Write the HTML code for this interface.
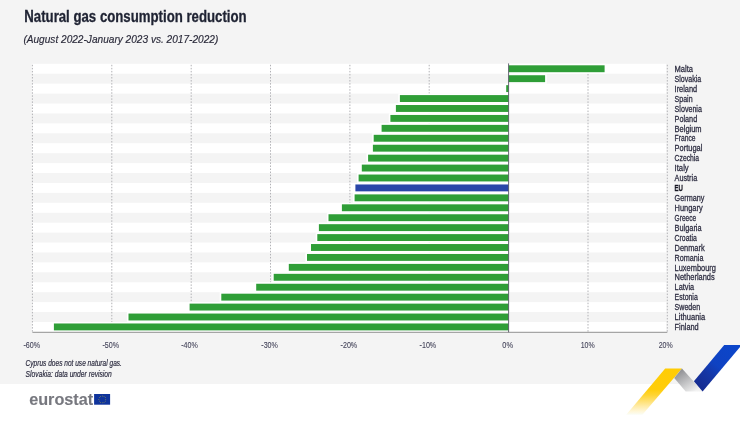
<!DOCTYPE html>
<html lang="en"><head><meta charset="utf-8"><title>Natural gas consumption reduction</title>
<style>
html,body{margin:0;padding:0;background:#fff;}
body{width:740px;height:421px;overflow:hidden;font-family:"Liberation Sans",sans-serif;}
svg{display:block}
text{font-family:"Liberation Sans",sans-serif;}
.lab{font-size:9px;fill:#2c2c40;stroke:#2c2c40;stroke-width:0.28px;}
.ax{font-size:8.5px;fill:#44445a;stroke:#44445a;stroke-width:0.1px;}
.fn{font-size:8.8px;font-style:italic;fill:#2e2e42;stroke:#2e2e42;stroke-width:0.2px;}
</style></head><body>
<svg width="740" height="421" viewBox="0 0 740 421">
<defs>
<linearGradient id="gy" gradientUnits="userSpaceOnUse" x1="0" y1="368.5" x2="0" y2="414.8"><stop offset="0" stop-color="#ffcc05"/><stop offset="0.45" stop-color="#ffcd0a"/><stop offset="0.58" stop-color="#ffd535"/><stop offset="0.70" stop-color="#ffe070"/><stop offset="0.82" stop-color="#ffecaa"/><stop offset="0.92" stop-color="#fff6d6"/><stop offset="1" stop-color="#fafdf6"/></linearGradient>
<linearGradient id="gg" gradientUnits="userSpaceOnUse" x1="680" y1="370" x2="694" y2="392"><stop offset="0" stop-color="#8e8f93"/><stop offset="1" stop-color="#f2f2f2"/></linearGradient>
<linearGradient id="gb" gradientUnits="userSpaceOnUse" x1="698" y1="387" x2="735" y2="343"><stop offset="0" stop-color="#152b90"/><stop offset="0.28" stop-color="#1636a4"/><stop offset="0.5" stop-color="#0f42c2"/><stop offset="1" stop-color="#0b46cb"/></linearGradient>
</defs>
<rect x="0" y="0" width="740" height="384" fill="#f4f4f4"/>
<rect x="0" y="384" width="740" height="37" fill="#ffffff"/>

<rect x="31.7" y="63.80" width="634.6" height="9.93" fill="#ffffff"/>
<rect x="31.7" y="83.66" width="634.6" height="9.93" fill="#ffffff"/>
<rect x="31.7" y="103.52" width="634.6" height="9.93" fill="#ffffff"/>
<rect x="31.7" y="123.38" width="634.6" height="9.93" fill="#ffffff"/>
<rect x="31.7" y="143.24" width="634.6" height="9.93" fill="#ffffff"/>
<rect x="31.7" y="163.10" width="634.6" height="9.93" fill="#ffffff"/>
<rect x="31.7" y="182.96" width="634.6" height="9.93" fill="#ffffff"/>
<rect x="31.7" y="202.82" width="634.6" height="9.93" fill="#ffffff"/>
<rect x="31.7" y="222.68" width="634.6" height="9.93" fill="#ffffff"/>
<rect x="31.7" y="242.54" width="634.6" height="9.93" fill="#ffffff"/>
<rect x="31.7" y="262.40" width="634.6" height="9.93" fill="#ffffff"/>
<rect x="31.7" y="282.26" width="634.6" height="9.93" fill="#ffffff"/>
<rect x="31.7" y="302.12" width="634.6" height="9.93" fill="#ffffff"/>
<rect x="31.7" y="321.98" width="634.6" height="9.93" fill="#ffffff"/>
<line x1="32.4" y1="64.8" x2="32.4" y2="331.9" stroke="#b2b2b6" stroke-width="1" stroke-dasharray="1.5 1.55"/>
<line x1="111.8" y1="64.8" x2="111.8" y2="331.9" stroke="#b2b2b6" stroke-width="1" stroke-dasharray="1.5 1.55"/>
<line x1="191.2" y1="64.8" x2="191.2" y2="331.9" stroke="#b2b2b6" stroke-width="1" stroke-dasharray="1.5 1.55"/>
<line x1="270.5" y1="64.8" x2="270.5" y2="331.9" stroke="#b2b2b6" stroke-width="1" stroke-dasharray="1.5 1.55"/>
<line x1="349.9" y1="64.8" x2="349.9" y2="331.9" stroke="#b2b2b6" stroke-width="1" stroke-dasharray="1.5 1.55"/>
<line x1="429.2" y1="64.8" x2="429.2" y2="331.9" stroke="#b2b2b6" stroke-width="1" stroke-dasharray="1.5 1.55"/>
<line x1="588.0" y1="64.8" x2="588.0" y2="331.9" stroke="#b2b2b6" stroke-width="1" stroke-dasharray="1.5 1.55"/>
<line x1="667.3" y1="64.8" x2="667.3" y2="331.9" stroke="#b2b2b6" stroke-width="1" stroke-dasharray="1.5 1.55"/>
<rect x="508.6" y="63.70" width="97.6" height="10.10" fill="#ffffff"/>
<rect x="508.6" y="73.63" width="38.1" height="10.10" fill="#ffffff"/>
<rect x="504.6" y="83.56" width="4.0" height="10.10" fill="#ffffff"/>
<rect x="398.3" y="93.49" width="110.3" height="10.10" fill="#ffffff"/>
<rect x="394.3" y="103.42" width="114.3" height="10.10" fill="#ffffff"/>
<rect x="388.8" y="113.35" width="119.8" height="10.10" fill="#ffffff"/>
<rect x="380.0" y="123.28" width="128.6" height="10.10" fill="#ffffff"/>
<rect x="372.1" y="133.21" width="136.5" height="10.10" fill="#ffffff"/>
<rect x="371.3" y="143.14" width="137.3" height="10.10" fill="#ffffff"/>
<rect x="366.5" y="153.07" width="142.1" height="10.10" fill="#ffffff"/>
<rect x="360.2" y="163.00" width="148.4" height="10.10" fill="#ffffff"/>
<rect x="357.0" y="172.93" width="151.6" height="10.10" fill="#ffffff"/>
<rect x="353.8" y="182.86" width="154.8" height="10.10" fill="#ffffff"/>
<rect x="353.0" y="192.79" width="155.6" height="10.10" fill="#ffffff"/>
<rect x="340.3" y="202.72" width="168.3" height="10.10" fill="#ffffff"/>
<rect x="326.9" y="212.65" width="181.7" height="10.10" fill="#ffffff"/>
<rect x="317.3" y="222.58" width="191.3" height="10.10" fill="#ffffff"/>
<rect x="315.7" y="232.51" width="192.9" height="10.10" fill="#ffffff"/>
<rect x="309.4" y="242.44" width="199.2" height="10.10" fill="#ffffff"/>
<rect x="305.4" y="252.37" width="203.2" height="10.10" fill="#ffffff"/>
<rect x="287.2" y="262.30" width="221.4" height="10.10" fill="#ffffff"/>
<rect x="272.1" y="272.23" width="236.5" height="10.10" fill="#ffffff"/>
<rect x="254.6" y="282.16" width="254.0" height="10.10" fill="#ffffff"/>
<rect x="219.7" y="292.09" width="288.9" height="10.10" fill="#ffffff"/>
<rect x="188.0" y="302.02" width="320.6" height="10.10" fill="#ffffff"/>
<rect x="126.9" y="311.95" width="381.7" height="10.10" fill="#ffffff"/>
<rect x="52.3" y="321.88" width="456.3" height="10.10" fill="#ffffff"/>
<rect x="508.6" y="65.30" width="96.0" height="6.9" fill="#2f9e37"/>
<rect x="508.6" y="75.23" width="36.5" height="6.9" fill="#2f9e37"/>
<rect x="506.2" y="85.16" width="2.4" height="6.9" fill="#2f9e37"/>
<rect x="399.9" y="95.09" width="108.7" height="6.9" fill="#2f9e37"/>
<rect x="395.9" y="105.02" width="112.7" height="6.9" fill="#2f9e37"/>
<rect x="390.4" y="114.95" width="118.2" height="6.9" fill="#2f9e37"/>
<rect x="381.6" y="124.88" width="127.0" height="6.9" fill="#2f9e37"/>
<rect x="373.7" y="134.81" width="134.9" height="6.9" fill="#2f9e37"/>
<rect x="372.9" y="144.74" width="135.7" height="6.9" fill="#2f9e37"/>
<rect x="368.1" y="154.67" width="140.5" height="6.9" fill="#2f9e37"/>
<rect x="361.8" y="164.60" width="146.8" height="6.9" fill="#2f9e37"/>
<rect x="358.6" y="174.53" width="150.0" height="6.9" fill="#2f9e37"/>
<rect x="355.4" y="184.46" width="153.2" height="6.9" fill="#2a46a8"/>
<rect x="354.6" y="194.39" width="154.0" height="6.9" fill="#2f9e37"/>
<rect x="341.9" y="204.32" width="166.7" height="6.9" fill="#2f9e37"/>
<rect x="328.5" y="214.25" width="180.1" height="6.9" fill="#2f9e37"/>
<rect x="318.9" y="224.18" width="189.7" height="6.9" fill="#2f9e37"/>
<rect x="317.3" y="234.11" width="191.3" height="6.9" fill="#2f9e37"/>
<rect x="311.0" y="244.04" width="197.6" height="6.9" fill="#2f9e37"/>
<rect x="307.0" y="253.97" width="201.6" height="6.9" fill="#2f9e37"/>
<rect x="288.8" y="263.90" width="219.8" height="6.9" fill="#2f9e37"/>
<rect x="273.7" y="273.83" width="234.9" height="6.9" fill="#2f9e37"/>
<rect x="256.2" y="283.76" width="252.4" height="6.9" fill="#2f9e37"/>
<rect x="221.3" y="293.69" width="287.3" height="6.9" fill="#2f9e37"/>
<rect x="189.6" y="303.62" width="319.0" height="6.9" fill="#2f9e37"/>
<rect x="128.5" y="313.55" width="380.1" height="6.9" fill="#2f9e37"/>
<rect x="53.9" y="323.48" width="454.7" height="6.9" fill="#2f9e37"/>
<line x1="32.4" y1="332.3" x2="667.3" y2="332.3" stroke="#929292" stroke-width="1"/>
<line x1="508.6" y1="63.4" x2="508.6" y2="332.3" stroke="#585866" stroke-width="0.9"/>
<text class="lab" x="674.6" y="71.9" textLength="18.4" lengthAdjust="spacingAndGlyphs">Malta</text>
<text class="lab" x="674.6" y="81.8" textLength="26.7" lengthAdjust="spacingAndGlyphs">Slovakia</text>
<text class="lab" x="674.6" y="91.8" textLength="22.6" lengthAdjust="spacingAndGlyphs">Ireland</text>
<text class="lab" x="674.6" y="101.7" textLength="18.0" lengthAdjust="spacingAndGlyphs">Spain</text>
<text class="lab" x="674.6" y="111.6" textLength="27.3" lengthAdjust="spacingAndGlyphs">Slovenia</text>
<text class="lab" x="674.6" y="121.5" textLength="22.6" lengthAdjust="spacingAndGlyphs">Poland</text>
<text class="lab" x="674.6" y="131.5" textLength="27.0" lengthAdjust="spacingAndGlyphs">Belgium</text>
<text class="lab" x="674.6" y="141.4" textLength="20.9" lengthAdjust="spacingAndGlyphs">France</text>
<text class="lab" x="674.6" y="151.3" textLength="27.8" lengthAdjust="spacingAndGlyphs">Portugal</text>
<text class="lab" x="674.6" y="161.3" textLength="24.5" lengthAdjust="spacingAndGlyphs">Czechia</text>
<text class="lab" x="674.6" y="171.2" textLength="14.1" lengthAdjust="spacingAndGlyphs">Italy</text>
<text class="lab" x="674.6" y="181.1" textLength="22.6" lengthAdjust="spacingAndGlyphs">Austria</text>
<text class="lab" x="674.6" y="191.1" textLength="8.4" lengthAdjust="spacingAndGlyphs" font-weight="bold" style="fill:#111118">EU</text>
<text class="lab" x="674.6" y="201.0" textLength="29.7" lengthAdjust="spacingAndGlyphs">Germany</text>
<text class="lab" x="674.6" y="210.9" textLength="28.1" lengthAdjust="spacingAndGlyphs">Hungary</text>
<text class="lab" x="674.6" y="220.8" textLength="21.5" lengthAdjust="spacingAndGlyphs">Greece</text>
<text class="lab" x="674.6" y="230.8" textLength="27.0" lengthAdjust="spacingAndGlyphs">Bulgaria</text>
<text class="lab" x="674.6" y="240.7" textLength="22.2" lengthAdjust="spacingAndGlyphs">Croatia</text>
<text class="lab" x="674.6" y="250.6" textLength="30.0" lengthAdjust="spacingAndGlyphs">Denmark</text>
<text class="lab" x="674.6" y="260.6" textLength="28.9" lengthAdjust="spacingAndGlyphs">Romania</text>
<text class="lab" x="674.6" y="270.5" textLength="41.3" lengthAdjust="spacingAndGlyphs">Luxembourg</text>
<text class="lab" x="674.6" y="280.4" textLength="40.1" lengthAdjust="spacingAndGlyphs">Netherlands</text>
<text class="lab" x="674.6" y="290.4" textLength="19.6" lengthAdjust="spacingAndGlyphs">Latvia</text>
<text class="lab" x="674.6" y="300.3" textLength="23.2" lengthAdjust="spacingAndGlyphs">Estonia</text>
<text class="lab" x="674.6" y="310.2" textLength="25.5" lengthAdjust="spacingAndGlyphs">Sweden</text>
<text class="lab" x="674.6" y="320.2" textLength="30.6" lengthAdjust="spacingAndGlyphs">Lithuania</text>
<text class="lab" x="674.6" y="330.1" textLength="24.1" lengthAdjust="spacingAndGlyphs">Finland</text>
<text class="ax" x="23.4" y="347.7" textLength="16.6" lengthAdjust="spacingAndGlyphs">-60%</text>
<text class="ax" x="102.5" y="347.7" textLength="16.6" lengthAdjust="spacingAndGlyphs">-50%</text>
<text class="ax" x="181.2" y="347.7" textLength="16.6" lengthAdjust="spacingAndGlyphs">-40%</text>
<text class="ax" x="261.3" y="347.7" textLength="16.6" lengthAdjust="spacingAndGlyphs">-30%</text>
<text class="ax" x="340.6" y="347.7" textLength="16.6" lengthAdjust="spacingAndGlyphs">-20%</text>
<text class="ax" x="419.6" y="347.7" textLength="16.6" lengthAdjust="spacingAndGlyphs">-10%</text>
<text class="ax" x="502.3" y="347.7" textLength="10.7" lengthAdjust="spacingAndGlyphs">0%</text>
<text class="ax" x="580.7" y="347.7" textLength="14" lengthAdjust="spacingAndGlyphs">10%</text>
<text class="ax" x="658.7" y="347.7" textLength="14" lengthAdjust="spacingAndGlyphs">20%</text>
<text x="24.3" y="21.9" font-size="15.6" font-weight="bold" fill="#1f2333" stroke="#1f2333" stroke-width="0.3" textLength="222.3" lengthAdjust="spacingAndGlyphs">Natural gas consumption reduction</text>
<text x="23.4" y="42.5" font-size="10" font-style="italic" fill="#2b2b3b" stroke="#2b2b3b" stroke-width="0.15" textLength="194.9" lengthAdjust="spacingAndGlyphs">(August 2022-January 2023 vs. 2017-2022)</text>
<text class="fn" x="25.6" y="365.8" textLength="96.3" lengthAdjust="spacingAndGlyphs">Cyprus does not use natural gas.</text>
<text class="fn" x="25.6" y="377" textLength="86.2" lengthAdjust="spacingAndGlyphs">Slovakia: data under revision</text>
<text x="29.2" y="404.7" font-size="16.2" font-weight="bold" fill="#77787f" stroke="#77787f" stroke-width="0.12" textLength="64" lengthAdjust="spacingAndGlyphs">eurostat</text>
<rect x="94.1" y="394" width="16" height="10.7" fill="#0f349c"/>
<circle cx="102.30" cy="395.95" r="0.45" fill="#c4b536"/>
<circle cx="104.02" cy="396.41" r="0.45" fill="#c4b536"/>
<circle cx="105.29" cy="397.67" r="0.45" fill="#c4b536"/>
<circle cx="105.75" cy="399.40" r="0.45" fill="#c4b536"/>
<circle cx="105.29" cy="401.12" r="0.45" fill="#c4b536"/>
<circle cx="104.02" cy="402.39" r="0.45" fill="#c4b536"/>
<circle cx="102.30" cy="402.85" r="0.45" fill="#c4b536"/>
<circle cx="100.58" cy="402.39" r="0.45" fill="#c4b536"/>
<circle cx="99.31" cy="401.12" r="0.45" fill="#c4b536"/>
<circle cx="98.85" cy="399.40" r="0.45" fill="#c4b536"/>
<circle cx="99.31" cy="397.67" r="0.45" fill="#c4b536"/>
<circle cx="100.57" cy="396.41" r="0.45" fill="#c4b536"/>
<polygon points="740,346.5 740,385 708,385" fill="#ffffff"/>
<polygon points="665.2,368.5 682,368.5 642.4,414.8 626.2,414.8" fill="url(#gy)"/>
<polygon points="682,368.5 702.6,391.4 685.7,391.4 674.2,378" fill="url(#gg)"/>
<polygon points="724.2,345.1 740,345.1 740,347 702.6,391.6 693.9,381.3" fill="url(#gb)"/>
</svg></body></html>
